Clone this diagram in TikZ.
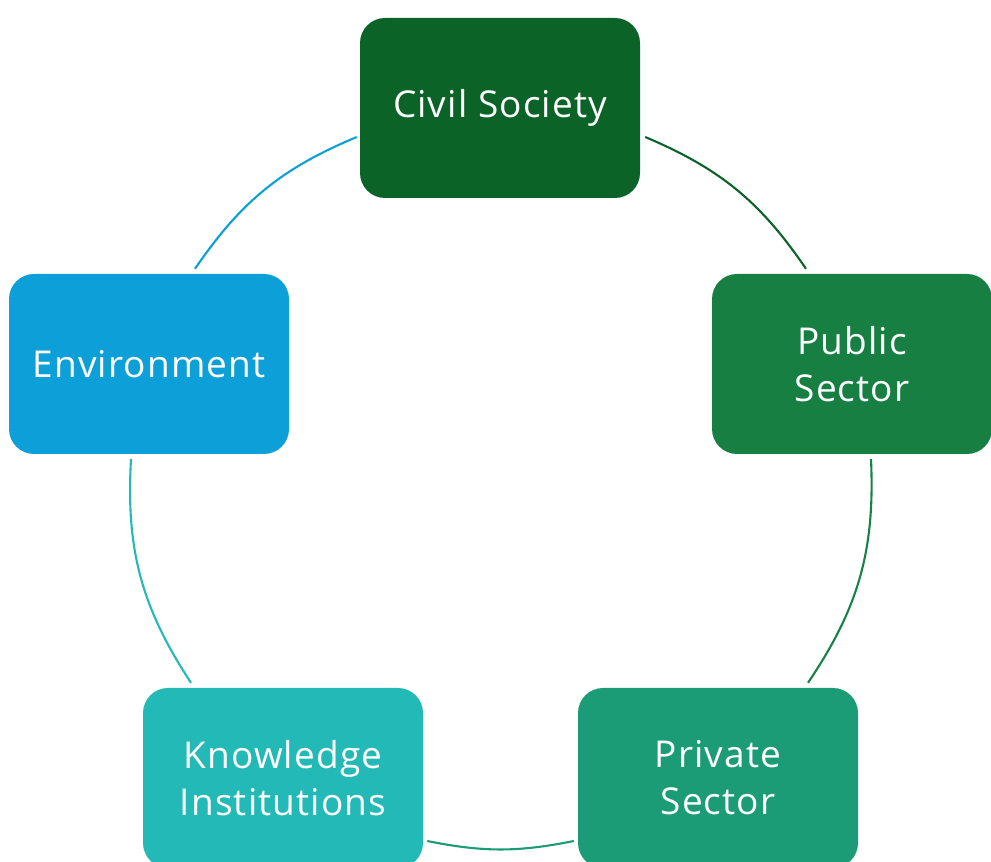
\documentclass[tikz,border=0pt]{standalone}
\usepackage{fontspec}
\setmainfont[LetterSpace=3]{Open Sans}
\definecolor{cCivil}{HTML}{0B6328}
\definecolor{cPublic}{HTML}{177F42}
\definecolor{cPrivate}{HTML}{1B9B76}
\definecolor{cKnow}{HTML}{23B9B6}
\definecolor{cEnv}{HTML}{0D9FD8}
\tikzset{
  box/.style={rounded corners=25pt, minimum width=280pt, minimum height=180pt,
    inner sep=0pt, align=center, text=white,
    font=\fontsize{37}{47}\selectfont},
  link/.style={line width=2.1pt, bend left=#1},
}
\begin{document}
\begin{tikzpicture}[x=1pt,y=1pt]
\useasboundingbox (0,0) rectangle (991,862);
\node[box, fill=cCivil] (civil) at (500,754) {Civil Society};
\node[box, fill=cPublic] (public) at (852,498) {Public\\Sector};
\node[box, fill=cEnv] (env) at (149,498) {Environment};
\node[box, fill=cKnow] (know) at (283,84) {Knowledge\\Institutions};
\node[box, fill=cPrivate] (private) at (718,84) {Private\\Sector};
\draw[cEnv, link=16.5] ([shift={(46,5)}]env.north) to ([shift={(-3,-29)}]civil.west);
\draw[cCivil, link=16.4] ([shift={(5,-29)}]civil.east) to ([shift={(-46,5)}]public.north);
\draw[cPublic!90!cPrivate, link=18.3] ([shift={(19,-5)}]public.south) to ([shift={(90,5)}]private.north);
\draw[cPrivate, link=11.4] ([shift={(-4,-63)}]private.west) to ([shift={(4,-63)}]know.east);
\draw[cKnow, link=18.3] ([shift={(-92,5)}]know.north) to ([shift={(-18,-5)}]env.south);
\end{tikzpicture}
\end{document}
